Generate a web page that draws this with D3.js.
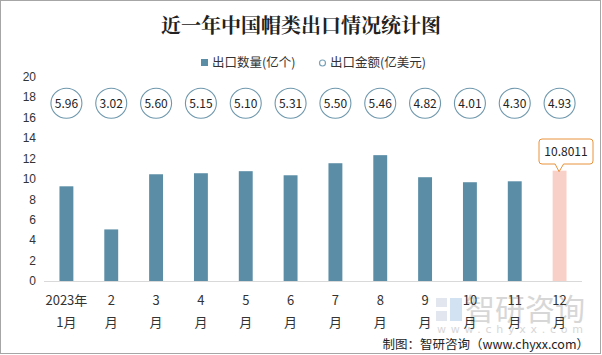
<!DOCTYPE html>
<html><head><meta charset="utf-8">
<script src="https://cdn.jsdelivr.net/npm/d3@7/dist/d3.min.js"></script>
<style>body{margin:0;background:#fff;}svg{display:block;font-family:"Noto Sans CJK SC","Noto Sans",sans-serif;}</style>
</head><body>
<svg id="c" width="602" height="355"></svg>
<script>
const monthsTop = ["2023年","2","3","4","5","6","7","8","9","10","11","12"];
const monthsBottom = ["1月","月","月","月","月","月","月","月","月","月","月","月"];
const quantity = [9.27,5.05,10.45,10.55,10.75,10.35,11.53,12.32,10.16,9.67,9.76,10.8011];
const amount = ["5.96","3.02","5.60","5.15","5.10","5.31","5.50","5.46","4.82","4.01","4.30","4.93"];
const yTicks = [0,2,4,6,8,10,12,14,16,18,20];

const svg = d3.select("#c");
svg.append("rect").attr("x",0.5).attr("y",0.5).attr("width",600).attr("height",353)
  .attr("fill","#fff").attr("stroke","#a6a6a6");

const x = d3.scaleBand().domain(d3.range(12)).range([44,582]).paddingInner(0.69).paddingOuter(0.345);
const y = d3.scaleLinear().domain([0,20]).range([281,76.7]);

// title
svg.append("text").attr("x",301).attr("y",33).attr("text-anchor","middle")
  .attr("font-size",20).attr("font-weight","bold").attr("fill","#222")
  .attr("font-family","'Noto Serif CJK SC','Noto Sans CJK SC',serif")
  .text("近一年中国帽类出口情况统计图");

// legend
svg.append("rect").attr("x",201).attr("y",59).attr("width",7).attr("height",7).attr("fill","#5b8ea6");
svg.append("text").attr("x",212).attr("y",67).attr("font-size",12.5).attr("fill","#333").text("出口数量(亿个)");
svg.append("circle").attr("cx",322.5).attr("cy",63).attr("r",3).attr("fill","#fff").attr("stroke","#7aa3b8").attr("stroke-width",1.2);
svg.append("text").attr("x",330).attr("y",67).attr("font-size",12.5).attr("fill","#333").text("出口金额(亿美元)");

// y axis
const yAxis = d3.axisLeft(y).tickValues(yTicks).tickSize(0).tickPadding(8);
const ga = svg.append("g").attr("transform","translate(44,0)").call(yAxis);
ga.select(".domain").remove();
ga.selectAll("text").attr("font-size",12).attr("fill","#333").attr("font-family","'Liberation Sans',Arial,sans-serif");

// watermark (behind labels)
const wm = svg.append("g").attr("opacity",0.5);
wm.append("rect").attr("x",436).attr("y",298).attr("width",11).attr("height",9).attr("fill","#c5cfe0");
wm.append("rect").attr("x",436).attr("y",311).attr("width",11).attr("height",10).attr("fill","#c5cfe0");
wm.append("rect").attr("x",450).attr("y",298).attr("width",12).attr("height",23).attr("fill","#a9c7e6");
wm.append("text").attr("x",465).attr("y",320).attr("font-size",30).attr("fill","#b0b0b0").text("智研咨询");
wm.append("text").attr("x",437).attr("y",333).attr("font-size",11).attr("fill","#b0b0b0")
  .attr("textLength",146).attr("lengthAdjust","spacing")
  .attr("font-family","'DejaVu Sans',sans-serif").text("www.chyxx.com");

// bars
svg.selectAll(".bar").data(quantity).enter().append("rect")
  .attr("x",(d,i)=>x(i)).attr("width",x.bandwidth())
  .attr("y",d=>y(d)).attr("height",d=>y(0)-y(d))
  .attr("fill",(d,i)=> i===11 ? "#f8d0c8" : "#5b8ea6");

// x axis
const xAxis = d3.axisBottom(x).tickSize(0).tickFormat("");
const gx = svg.append("g").attr("transform","translate(0,281)").call(xAxis);
gx.select(".domain").attr("stroke","#d9d9d9").attr("d","M44,0.5H582");

svg.selectAll(".xl1").data(monthsTop).enter().append("text")
  .attr("x",(d,i)=>x(i)+x.bandwidth()/2).attr("y",305).attr("text-anchor","middle")
  .attr("font-size",13).attr("fill","#333").text(d=>d);
svg.selectAll(".xl2").data(monthsBottom).enter().append("text")
  .attr("x",(d,i)=>x(i)+x.bandwidth()/2).attr("y",327).attr("text-anchor","middle")
  .attr("font-size",13).attr("fill","#333").text(d=>d);

// amount circles
const cy = 103.3;
svg.selectAll(".amt").data(amount).enter().append("ellipse")
  .attr("cx",(d,i)=>x(i)+x.bandwidth()/2).attr("cy",cy).attr("rx",15.5).attr("ry",15)
  .attr("fill","#fff").attr("stroke","#6f98ad").attr("stroke-width",1.1);
svg.selectAll(".amtt").data(amount).enter().append("text")
  .attr("x",(d,i)=>x(i)+x.bandwidth()/2).attr("y",cy+4.5).attr("text-anchor","middle")
  .attr("font-size",12).attr("fill","#222").text(d=>d);

// callout for last bar
const lx = x(11)+x.bandwidth()/2, ly = y(quantity[11]);
const bx0 = 539, bx1 = 593, by0 = 139, by1 = 164;
const p = d3.path();
p.moveTo(bx0+3,by0); p.lineTo(bx1-3,by0); p.quadraticCurveTo(bx1,by0,bx1,by0+3);
p.lineTo(bx1,by1-3); p.quadraticCurveTo(bx1,by1,bx1-3,by1);
p.lineTo(lx+4,by1); p.lineTo(lx-0.5,ly+1); p.lineTo(lx-4.5,by1);
p.lineTo(bx0+3,by1); p.quadraticCurveTo(bx0,by1,bx0,by1-3);
p.lineTo(bx0,by0+3); p.quadraticCurveTo(bx0,by0,bx0+3,by0); p.closePath();
svg.append("path").attr("d",p.toString()).attr("fill","#fff").attr("stroke","#e8923a").attr("stroke-width",1);
svg.append("text").attr("x",(bx0+bx1)/2).attr("y",156).attr("text-anchor","middle")
  .attr("font-size",12).attr("fill","#222").text(d3.format(".4f")(quantity[11]));

// source
svg.append("text").attr("x",589).attr("y",349).attr("text-anchor","end")
  .attr("font-size",12.5).attr("fill","#222").text("制图：智研咨询（www.chyxx.com）");
</script>
</body></html>
